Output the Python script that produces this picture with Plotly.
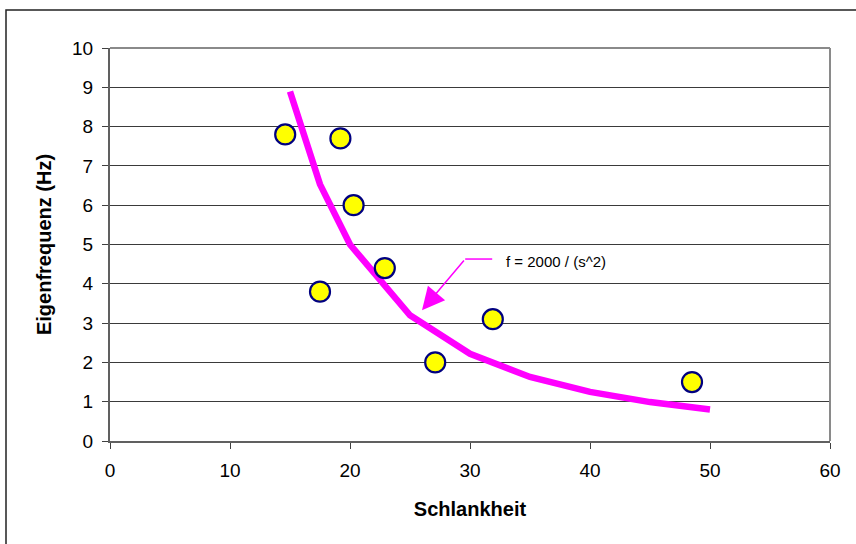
import plotly.graph_objects as go

# measured points
slenderness = [14.6, 19.2, 20.3, 17.5, 22.9, 27.1, 31.9, 48.5]
frequency = [7.8, 7.7, 6.0, 3.8, 4.4, 2.0, 3.1, 1.5]

# curve f = 2000 / s^2
curve_s = [15, 17.5, 20, 25, 30, 35, 40, 45, 50]
curve_f = [8.89, 6.53, 5.0, 3.2, 2.22, 1.63, 1.25, 0.99, 0.8]

fig = go.Figure()
fig.add_trace(go.Scatter(x=curve_s, y=curve_f, mode="lines",
                         line=dict(color="#FF00FF", width=6.5), showlegend=False))
fig.add_trace(go.Scatter(x=slenderness, y=frequency, mode="markers",
                         marker=dict(size=20, color="#FFFF00",
                                     line=dict(color="#000080", width=2.2)),
                         showlegend=False))

font = "Liberation Sans, Arial, sans-serif"

fig.update_layout(
    width=856, height=544,
    margin=dict(l=110, r=26, t=48, b=103),
    paper_bgcolor="white", plot_bgcolor="white",
    font=dict(family=font, color="black"),
    xaxis=dict(range=[0, 60], dtick=10, showgrid=False, zeroline=False,
               showline=True, linecolor="#606060", linewidth=2, mirror=False,
               ticks="outside", ticklen=6, tickcolor="#404040", ticklabelstandoff=5,
               tickfont=dict(size=19, family=font),
               title=dict(text="<b>Schlankheit</b>", font=dict(size=20, family=font), standoff=22)),
    yaxis=dict(range=[0, 10], dtick=1, showgrid=True, gridcolor="#3a3a3a", gridwidth=1,
               zeroline=False, showline=True, linecolor="#606060", linewidth=2,
               ticks="outside", ticklen=6, tickcolor="#404040", ticklabelstandoff=5,
               tickfont=dict(size=19, family=font),
               title=dict(text="<b>Eigenfrequenz (Hz)</b>", font=dict(size=20, family=font), standoff=15)),
)

# plot area top/right border (gray)
fig.add_shape(type="line", xref="paper", yref="paper", x0=0, x1=1, y0=1, y1=1,
              line=dict(color="#8a8a8a", width=2))
fig.add_shape(type="line", xref="paper", yref="paper", x0=1, x1=1, y0=0, y1=1,
              line=dict(color="#8a8a8a", width=2))

# outer chart frame
fig.add_shape(type="rect", xref="paper", yref="paper",
              x0=(6 - 110) / 720, x1=(870 - 110) / 720,
              y0=(441 - 560) / 393, y1=(441 - 10) / 393,
              line=dict(color="#222222", width=1.5), layer="below")

# annotation with elbow arrow
fig.add_shape(type="line", xref="x", yref="y", x0=29.6, y0=4.63, x1=31.85, y1=4.63,
              line=dict(color="#FF00FF", width=1.5))
fig.add_annotation(x=26.0, y=3.33, ax=29.6, ay=4.63, axref="x", ayref="y",
                   xref="x", yref="y", text="", showarrow=True,
                   arrowhead=2, arrowsize=3, arrowwidth=1.5, arrowcolor="#FF00FF")
fig.add_annotation(x=32.85, y=4.58, xref="x", yref="y", text="f = 2000 / (s^2)",
                   showarrow=False, xanchor="left", yanchor="middle",
                   font=dict(size=15, family=font, color="black"))

fig.write_html("out.html")
